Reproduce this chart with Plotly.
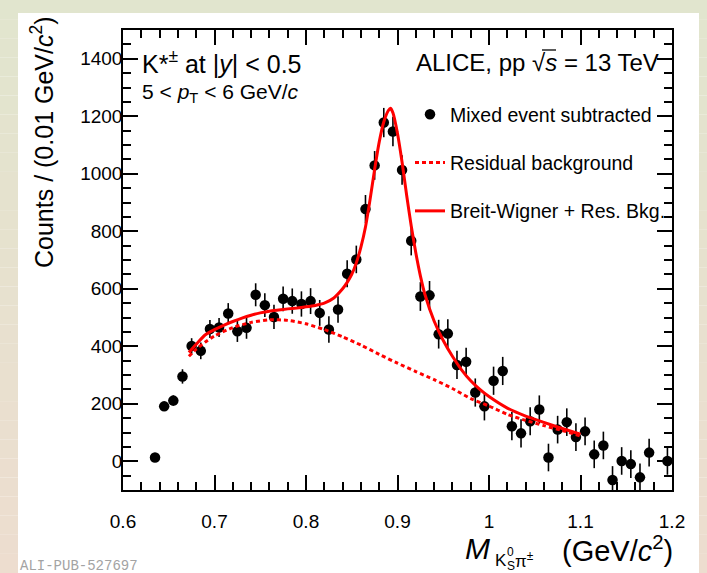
import plotly.graph_objects as go

# ---------------- data ----------------
mass = [0.635, 0.645, 0.655, 0.665, 0.675, 0.685, 0.695, 0.705, 0.715, 0.725,
        0.735, 0.745, 0.755, 0.765, 0.775, 0.785, 0.795, 0.805, 0.815, 0.825,
        0.835, 0.845, 0.855, 0.865, 0.875, 0.885, 0.895, 0.905, 0.915, 0.925,
        0.935, 0.945, 0.955, 0.965, 0.975, 0.985, 0.995, 1.005, 1.015, 1.025,
        1.035, 1.045, 1.055, 1.065, 1.075, 1.085, 1.095, 1.105, 1.115, 1.125,
        1.135, 1.145, 1.155, 1.165, 1.175, 1.195]
counts = [13, 191, 211, 295, 401, 384, 460, 465, 514, 452,
          464, 579, 543, 502, 565, 557, 547, 557, 516, 458,
          528, 652, 702, 877, 1029, 1178, 1147, 1013, 767, 573,
          577, 442, 444, 335, 346, 239, 191, 280, 314, 122,
          97, 139, 180, 13, 110, 136, 84, 104, 24, 55,
          -65, 1, -10, -56, 30, 1]
count_err = [8, 14, 18, 25, 27, 29, 31, 33, 36, 37,
             38, 40, 41, 42, 43, 44, 44, 45, 45, 46,
             46, 47, 48, 49, 50, 51, 51, 51, 51, 50,
             50, 50, 50, 49, 49, 49, 49, 49, 49, 49,
             49, 49, 49, 48, 48, 48, 48, 48, 48, 48,
             48, 48, 48, 48, 48, 48]

fit_mass = [0.672, 0.68, 0.69, 0.70, 0.71, 0.72, 0.73, 0.74, 0.75, 0.76,
            0.77, 0.78, 0.79, 0.80, 0.81, 0.82, 0.83, 0.84, 0.845, 0.85,
            0.855, 0.86, 0.865, 0.87, 0.875, 0.88, 0.885, 0.89, 0.8925, 0.895,
            0.90, 0.905, 0.91, 0.915, 0.92, 0.925, 0.93, 0.94, 0.95, 0.96,
            0.97, 0.98, 0.99, 1.00, 1.02, 1.04, 1.06, 1.08, 1.10]
fit_total = [378, 407, 440, 458, 473, 486, 498, 508, 516, 522,
             526, 530, 533, 537, 542, 550, 567, 600, 622, 650,
             690, 745, 815, 910, 1015, 1110, 1180, 1220, 1228, 1212,
             1140, 1040, 925, 818, 725, 645, 580, 488, 420, 365,
             318, 280, 250, 225, 185, 157, 135, 114, 94]

bkg_mass = [0.672, 0.68, 0.69, 0.70, 0.72, 0.74, 0.76, 0.78, 0.80, 0.82,
            0.84, 0.86, 0.88, 0.90, 0.92, 0.94, 0.96, 0.98, 1.00, 1.02,
            1.04, 1.06, 1.08, 1.10]
bkg_vals = [365, 390, 415, 436, 465, 483, 492, 490, 478, 458,
            433, 404, 372, 341, 312, 284, 253, 218, 192, 163,
            142, 124, 107, 88]

x_tickvals = [0.6, 0.7, 0.8, 0.9, 1.0, 1.1, 1.2]
x_ticktext = ["0.6", "0.7", "0.8", "0.9", "1", "1.1", "1.2"]
y_tickvals = [0, 200, 400, 600, 800, 1000, 1200, 1400]
y_ticktext = ["0", "200", "400", "600", "800", "1000", "1200", "1400"]

# ---------------- geometry helpers ----------------
W, H = 707, 573
L, R, T, B = 123, 35, 30, 83
PW, PH = W - L - R, H - T - B


def px2x(px):
    return (px - L) / PW


def py2y(py):
    return (H - B - py) / PH


FONT = "Liberation Sans, Arial, Helvetica, sans-serif"

fig = go.Figure()
fig.add_trace(go.Scatter(
    x=mass, y=counts, mode="markers", name="Mixed event subtracted",
    marker=dict(color="black", size=10.5),
    error_y=dict(type="data", array=count_err, color="black", thickness=1.6, width=0),
    error_x=dict(type="constant", value=0.005, color="black", thickness=1.6, width=0),
    legendgroup="a", legendrank=1,
))
fig.add_trace(go.Scatter(
    x=bkg_mass, y=bkg_vals, mode="lines", name="Residual background",
    line=dict(color="#ff0000", width=3, dash="4px,3px", shape="spline", smoothing=0.6),
    legendgroup="b", legendrank=2,
))
fig.add_trace(go.Scatter(
    x=fit_mass, y=fit_total, mode="lines", name="Breit-Wigner + Res. Bkg.",
    line=dict(color="#ff0000", width=3, shape="spline", smoothing=0.5),
    legendgroup="c", legendrank=3,
))

# ---------------- background frame (gradient margins) ----------------
shapes = []
top_c = (225, 229, 206)
bot_c = (237, 221, 207)
nb = 30
for i in range(nb):
    y0p = H * i / nb
    y1p = H * (i + 1) / nb
    f = (i + 0.5) / nb
    c = tuple(round(top_c[k] + (bot_c[k] - top_c[k]) * f) for k in range(3))
    col = "rgb(%d,%d,%d)" % c
    for (xa, xb) in [(0, 18), (699, W)]:
        shapes.append(dict(type="rect", xref="paper", yref="paper",
                           x0=px2x(xa), x1=px2x(xb), y0=py2y(y1p), y1=py2y(y0p),
                           fillcolor=col, line=dict(width=0), layer="below"))
shapes.append(dict(type="rect", xref="paper", yref="paper",
                   x0=px2x(18), x1=px2x(699), y0=py2y(13), y1=py2y(0),
                   fillcolor="rgb(%d,%d,%d)" % top_c, line=dict(width=0), layer="below"))
# overline of the square root in "√s"
shapes.append(dict(type="line", xref="paper", yref="paper",
                   x0=px2x(542), x1=px2x(556), y0=py2y(50), y1=py2y(50),
                   line=dict(color="black", width=1.3)))

annotations = [
    dict(text="K*<sup>±</sup> at |<i>y</i>| < 0.5", x=px2x(140), y=py2y(62),
         xanchor="left", yanchor="middle", font=dict(size=25)),
    dict(text="5 < <i>p</i><sub>T</sub> < 6 GeV/<i>c</i>", x=px2x(140), y=py2y(93),
         xanchor="left", yanchor="middle", font=dict(size=21)),
    dict(text="ALICE, pp √<i>s</i> = 13 TeV", x=px2x(661), y=py2y(62),
         xanchor="right", yanchor="middle", font=dict(size=24)),
    # y axis title
    dict(text="Counts / (0.01 GeV/<i>c</i><sup>2</sup>)", x=px2x(42), y=py2y(14),
         xanchor="center", yanchor="top", textangle=-90, font=dict(size=25)),
    # x axis title pieces
    dict(text="(GeV/<i>c</i><sup>2</sup>)", x=px2x(675), y=py2y(549),
         xanchor="right", yanchor="middle", font=dict(size=29)),
    dict(text="<i>M</i>", x=px2x(492), y=py2y(548),
         xanchor="right", yanchor="middle", font=dict(size=30)),
    dict(text="K", x=px2x(493), y=py2y(560),
         xanchor="left", yanchor="middle", font=dict(size=17)),
    dict(text="0", x=px2x(505), y=py2y(552),
         xanchor="left", yanchor="middle", font=dict(size=12)),
    dict(text="S", x=px2x(505), y=py2y(566),
         xanchor="left", yanchor="middle", font=dict(size=12)),
    dict(text="π<sup>±</sup>", x=px2x(513), y=py2y(560),
         xanchor="left", yanchor="middle", font=dict(size=17)),
    dict(text="ALI-PUB-527697", x=px2x(18), y=py2y(566),
         xanchor="left", yanchor="middle",
         font=dict(size=14, color="#a3a3a3", family="Liberation Mono, DejaVu Sans Mono, monospace")),
]
for a in annotations:
    a.setdefault("xref", "paper")
    a.setdefault("yref", "paper")
    a["showarrow"] = False

axis_common = dict(
    showline=True, linecolor="black", linewidth=1.5, mirror="allticks",
    ticks="inside", ticklen=15, tickwidth=1.5, tickcolor="black",
    showgrid=False, zeroline=False,
    tickfont=dict(size=19, color="black", family=FONT),
)

fig.update_layout(
    width=W, height=H,
    margin=dict(l=L, r=R, t=T, b=B, pad=0),
    paper_bgcolor="white", plot_bgcolor="white",
    font=dict(family=FONT, color="black"),
    showlegend=True,
    legend=dict(x=px2x(410), y=py2y(95), xanchor="left", yanchor="top",
                bgcolor="rgba(0,0,0,0)", font=dict(size=19.5),
                tracegroupgap=20, itemwidth=30),
    shapes=shapes,
    annotations=annotations,
    xaxis=dict(range=[0.6, 1.2], tickvals=x_tickvals, ticktext=x_ticktext,
               ticklabelstandoff=13,
               minor=dict(dtick=0.02, tick0=0.6, ticks="inside", ticklen=8,
                          tickwidth=1.5, tickcolor="black"),
               **axis_common),
    yaxis=dict(range=[-100, 1500], tickvals=y_tickvals, ticktext=y_ticktext,
               ticklabelstandoff=-5,
               minor=dict(dtick=50, tick0=0, ticks="inside", ticklen=8,
                          tickwidth=1.5, tickcolor="black"),
               **axis_common),
)

fig.write_html("out.html", config={"displayModeBar": False},
               post_script="document.body.style.margin='0px';document.body.style.overflow='hidden';")
